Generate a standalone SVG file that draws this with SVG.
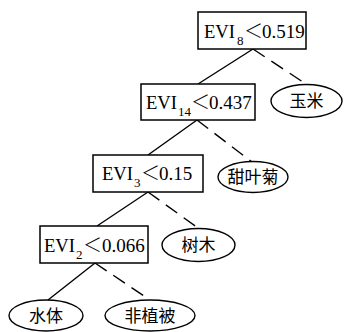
<svg xmlns="http://www.w3.org/2000/svg" width="344" height="332" viewBox="0 0 344 332">
<style>
.box{fill:#fff;stroke:#000;stroke-width:1.5}
.ell{fill:#fff;stroke:#000;stroke-width:1.4}
.solid{stroke:#000;stroke-width:1.4;fill:none}
.dash{stroke:#000;stroke-width:1.4;fill:none;stroke-dasharray:14 8}
.t{font-family:"Liberation Serif","Noto Sans CJK SC",serif;font-size:19px;fill:#000}
.sub{font-size:13px}
.lt{font-family:"Noto Sans CJK SC","Liberation Serif",serif;font-size:19px;font-weight:300}
.cn{font-family:"Noto Sans CJK SC",serif;font-size:17px;fill:#000;text-anchor:middle}
</style>
<rect width="344" height="332" fill="#fff"/>
<g id="connectors">
<line class="solid" x1="253" y1="49" x2="198" y2="84"/>
<line class="dash" x1="253" y1="49" x2="306" y2="84"/>
<line class="solid" x1="197" y1="120" x2="148" y2="155"/>
<line class="dash" x1="197" y1="120" x2="252" y2="162"/>
<line class="solid" x1="148" y1="192" x2="97" y2="226"/>
<line class="dash" x1="148" y1="192" x2="198" y2="228"/>
<line class="solid" x1="95" y1="263" x2="48" y2="300"/>
<line class="dash" x1="95" y1="263" x2="150" y2="300"/>
</g>
<g id="n1">
<rect class="box" x="198" y="12" width="108" height="37"/>
<text class="t" y="38"><tspan x="204" textLength="31" lengthAdjust="spacingAndGlyphs">EVI</tspan><tspan class="sub" x="237" y="45">8</tspan><tspan class="lt" x="244" y="38">＜</tspan><tspan x="262" y="38">0.519</tspan></text>
</g>
<g id="n2">
<rect class="box" x="141" y="84" width="114" height="36"/>
<text class="t" y="109"><tspan x="146" textLength="31" lengthAdjust="spacingAndGlyphs">EVI</tspan><tspan class="sub" x="178" y="116">14</tspan><tspan class="lt" x="191" y="109">＜</tspan><tspan x="209" y="109">0.437</tspan></text>
</g>
<g id="n3">
<rect class="box" x="93" y="155" width="110" height="37"/>
<text class="t" y="180"><tspan x="102" textLength="31" lengthAdjust="spacingAndGlyphs">EVI</tspan><tspan class="sub" x="134" y="187">3</tspan><tspan class="lt" x="141" y="180">＜</tspan><tspan x="159" y="180">0.15</tspan></text>
</g>
<g id="n4">
<rect class="box" x="40" y="226" width="108" height="37"/>
<text class="t" y="252"><tspan x="44" textLength="31" lengthAdjust="spacingAndGlyphs">EVI</tspan><tspan class="sub" x="76" y="259">2</tspan><tspan class="lt" x="83" y="252">＜</tspan><tspan x="102" y="252">0.066</tspan></text>
</g>
<g id="yumi">
<ellipse class="ell" cx="306.5" cy="101" rx="35.5" ry="16.5"/>
<text class="cn" x="306.5" y="107">玉米</text>
</g>
<g id="tianyeju">
<ellipse class="ell" cx="253" cy="177" rx="35" ry="15.5"/>
<text class="cn" x="253" y="183">甜叶菊</text>
</g>
<g id="shumu">
<ellipse class="ell" cx="198.5" cy="245" rx="36.5" ry="16.5"/>
<text class="cn" x="198.5" y="251">树木</text>
</g>
<g id="shuiti">
<ellipse class="ell" cx="46" cy="315.5" rx="37" ry="15.5"/>
<text class="cn" x="46" y="321.5">水体</text>
</g>
<g id="feizhibei">
<ellipse class="ell" cx="150" cy="315.5" rx="45" ry="15.5"/>
<text class="cn" x="150" y="321.5">非植被</text>
</g>
</svg>
